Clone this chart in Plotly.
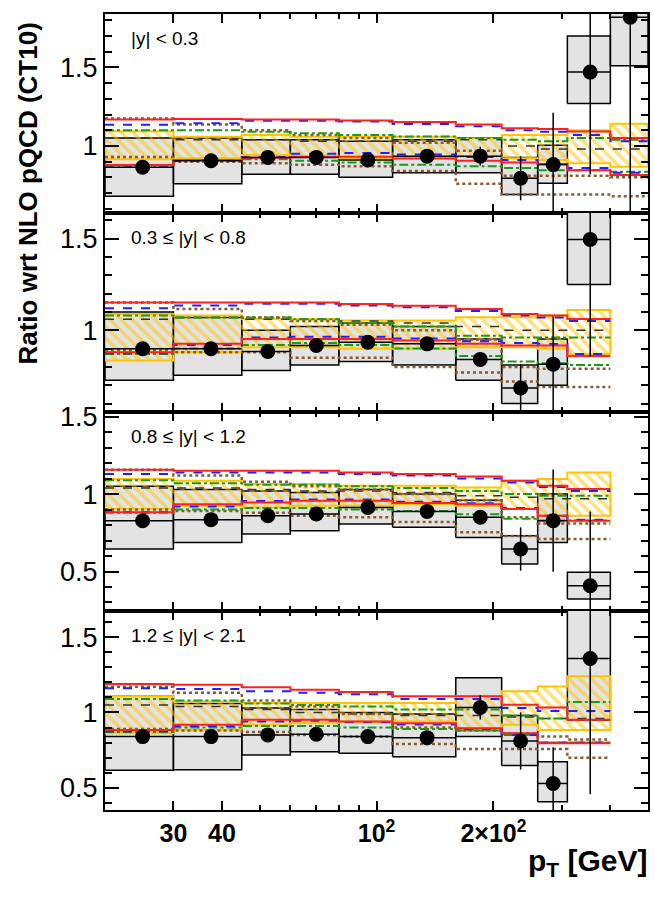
import math
import plotly.graph_objects as go
from plotly.subplots import make_subplots

# pT bin edges and centres [GeV]
pt_edges = [20, 30, 45, 60, 80, 110, 160, 210, 260, 310, 400, 500]
pt_centers = [25, 37.5, 52.5, 70, 95, 135, 185, 235, 285, 355, 450]

rapidity_labels = ["|y| < 0.3", "0.3 ≤ |y| < 0.8", "0.8 ≤ |y| < 1.2", "1.2 ≤ |y| < 2.1"]

# ---- |y| < 0.3 ----
ratio_1 = [0.864, 0.906, 0.927, 0.927, 0.910, 0.935, 0.935, 0.794, 0.881, 1.47, 1.82]
stat_1 = [0.01, 0.01, 0.01, 0.01, 0.01, 0.015, 0.06, 0.14, 0.33, 0.65, 1.3]
sys_lo_1 = [0.68, 0.76, 0.82, 0.82, 0.80, 0.83, 0.83, 0.69, 0.763, 1.27, 1.51]
sys_hi_1 = [1.05, 1.05, 1.04, 1.04, 1.03, 1.04, 1.05, 0.927, 1.005, 1.70, 2.15]
nlo_lo_1 = [0.915, 0.921, 0.942, 0.931, 0.921, 0.931, 0.931, 0.921, 0.910, 0.889, 0.868]
nlo_hi_1 = [1.094, 1.058, 1.069, 1.058, 1.058, 1.058, 1.047, 1.069, 1.069, 1.10, 1.142]
red_lo_1 = [0.878, 0.910, 0.925, 0.931, 0.931, 0.92, 0.905, 0.895, 0.885, 0.845, 0.815]
red_hi_1 = [1.169, 1.172, 1.169, 1.169, 1.162, 1.152, 1.137, 1.112, 1.108, 1.092, 1.05]
blue_lo_1 = [0.875, 0.905, 0.93, 0.95, 0.955, 0.945, 0.93, 0.91, 0.885, 0.86, 0.83]
blue_hi_1 = [1.135, 1.145, 1.16, 1.16, 1.155, 1.14, 1.125, 1.10, 1.09, 1.07, 1.03]
green_lo_1 = [0.875, 0.905, 0.915, 0.905, 0.895, 0.88, 0.87, 0.86, 0.845, 0.845, 0.835]
green_hi_1 = [1.10, 1.10, 1.09, 1.08, 1.07, 1.06, 1.05, 1.04, 1.03, 1.05, 1.04]
brown_lo_1 = [0.93, 0.90, 0.89, 0.88, 0.87, 0.84, 0.76, 0.69, 0.69, 0.69, 0.68]
brown_hi_1 = [1.175, 1.137, 1.10, 1.07, 1.05, 1.02, 0.97, 0.81, 0.81, 0.81, 0.80]
black_1 = [1.05, 1.04, 1.04, 1.03, 1.03, 1.03, 1.04, 1.0, 0.98, 0.98, 0.98]

# ---- 0.3 <= |y| < 0.8 ----
ratio_2 = [0.899, 0.899, 0.884, 0.917, 0.935, 0.926, 0.841, 0.685, 0.815, 1.496]
stat_2 = [0.01, 0.01, 0.01, 0.01, 0.015, 0.015, 0.035, 0.13, 0.26, 0.64]
sys_lo_2 = [0.727, 0.754, 0.78, 0.81, 0.83, 0.81, 0.727, 0.60, 0.70, 1.25]
sys_hi_2 = [1.10, 1.07, 1.0, 1.02, 1.04, 1.02, 0.953, 0.81, 0.953, 1.70]
nlo_lo_2 = [0.835, 0.88, 0.908, 0.908, 0.899, 0.899, 0.908, 0.908, 0.899, 0.871]
nlo_hi_2 = [1.089, 1.08, 1.062, 1.062, 1.053, 1.053, 1.071, 1.071, 1.08, 1.11]
red_lo_2 = [0.880, 0.926, 0.953, 0.953, 0.953, 0.944, 0.926, 0.917, 0.917, 0.859]
red_hi_2 = [1.152, 1.152, 1.152, 1.152, 1.143, 1.134, 1.116, 1.089, 1.08, 1.062]
blue_lo_2 = [0.875, 0.92, 0.96, 0.965, 0.965, 0.955, 0.94, 0.93, 0.925, 0.87]
blue_hi_2 = [1.12, 1.135, 1.145, 1.145, 1.135, 1.125, 1.105, 1.08, 1.07, 1.05]
green_lo_2 = [0.870, 0.90, 0.92, 0.93, 0.92, 0.90, 0.86, 0.83, 0.82, 0.81]
green_hi_2 = [1.08, 1.07, 1.07, 1.06, 1.04, 1.02, 0.97, 0.96, 0.96, 0.96]
brown_lo_2 = [0.89, 0.88, 0.88, 0.85, 0.85, 0.80, 0.77, 0.72, 0.69, 0.69]
brown_hi_2 = [1.152, 1.116, 1.07, 1.05, 1.03, 1.0, 0.95, 0.80, 0.79, 0.79]
black_2 = [1.06, 1.07, 1.06, 1.06, 1.05, 1.04, 1.02, 1.0, 1.0, 1.0]

# ---- 0.8 <= |y| < 1.2 ----
ratio_3 = [0.828, 0.835, 0.86, 0.871, 0.914, 0.888, 0.85, 0.645, 0.828, 0.408]
stat_3 = [0.01, 0.01, 0.01, 0.01, 0.015, 0.015, 0.04, 0.14, 0.33, 0.48]
sys_lo_3 = [0.645, 0.688, 0.742, 0.763, 0.806, 0.785, 0.72, 0.548, 0.688, 0.323]
sys_hi_3 = [1.05, 1.03, 1.02, 1.01, 1.03, 1.0, 0.96, 0.731, 1.0, 0.495]
nlo_lo_3 = [0.903, 0.925, 0.914, 0.925, 0.925, 0.935, 0.925, 0.903, 0.86, 0.86]
nlo_hi_3 = [1.097, 1.086, 1.065, 1.065, 1.054, 1.054, 1.043, 1.086, 1.097, 1.14]
red_lo_3 = [0.882, 0.935, 0.946, 0.957, 0.957, 0.942, 0.935, 0.903, 0.86, 0.828]
red_hi_3 = [1.157, 1.15, 1.15, 1.15, 1.14, 1.129, 1.114, 1.086, 1.054, 1.032]
blue_lo_3 = [0.885, 0.92, 0.955, 0.965, 0.965, 0.95, 0.94, 0.91, 0.86, 0.835]
blue_hi_3 = [1.13, 1.14, 1.14, 1.14, 1.13, 1.12, 1.10, 1.075, 1.045, 1.02]
green_lo_3 = [0.88, 0.90, 0.91, 0.91, 0.90, 0.89, 0.87, 0.84, 0.83, 0.83]
green_hi_3 = [1.09, 1.07, 1.06, 1.06, 1.05, 1.04, 1.02, 1.0, 0.99, 0.99]
brown_lo_3 = [0.90, 0.89, 0.88, 0.86, 0.85, 0.82, 0.753, 0.73, 0.71, 0.71]
brown_hi_3 = [1.157, 1.12, 1.08, 1.05, 1.03, 1.0, 0.96, 0.85, 0.81, 0.81]
black_3 = [1.04, 1.04, 1.03, 1.02, 1.02, 1.01, 0.99, 0.98, 0.97, 0.97]

# ---- 1.2 <= |y| < 2.1 ----
ratio_4 = [0.84, 0.84, 0.851, 0.855, 0.84, 0.833, 1.033, 0.811, 0.529, 1.358]
stat_4 = [0.01, 0.01, 0.01, 0.01, 0.01, 0.02, 0.08, 0.19, 0.24, 0.9]
sys_lo_4 = [0.617, 0.62, 0.717, 0.74, 0.73, 0.707, 0.84, 0.649, 0.407, 0.95]
sys_hi_4 = [1.107, 1.06, 1.03, 1.02, 1.0, 0.99, 1.23, 0.98, 0.673, 1.70]
nlo_lo_4 = [0.862, 0.884, 0.918, 0.929, 0.94, 0.94, 0.896, 0.918, 0.884, 0.884]
nlo_hi_4 = [1.107, 1.073, 1.062, 1.062, 1.062, 1.062, 1.107, 1.14, 1.173, 1.24]
red_lo_4 = [0.884, 0.918, 0.951, 0.951, 0.94, 0.929, 0.896, 0.862, 0.796, 0.796]
red_hi_4 = [1.189, 1.184, 1.167, 1.151, 1.136, 1.107, 1.107, 1.051, 1.033, 0.951]
blue_lo_4 = [0.875, 0.91, 0.94, 0.945, 0.935, 0.92, 0.89, 0.85, 0.80, 0.80]
blue_hi_4 = [1.16, 1.155, 1.14, 1.13, 1.12, 1.09, 1.09, 1.03, 1.01, 1.01]
green_lo_4 = [0.87, 0.90, 0.91, 0.91, 0.90, 0.89, 0.88, 0.85, 0.80, 0.80]
green_hi_4 = [1.09, 1.08, 1.06, 1.05, 1.04, 1.02, 1.02, 0.98, 0.96, 1.07]
brown_lo_4 = [0.89, 0.88, 0.87, 0.85, 0.84, 0.79, 0.757, 0.757, 0.757, 0.70]
brown_hi_4 = [1.17, 1.13, 1.08, 1.04, 0.99, 0.90, 0.88, 0.86, 0.84, 0.82]
black_4 = [1.05, 1.04, 1.02, 1.0, 0.99, 0.98, 0.98, 0.97, 0.96, 0.96]

y_ranges = [[0.573, 1.84], [0.554, 1.64], [0.245, 1.53], [0.353, 1.673]]

panels = [
    dict(ratio=ratio_1, stat=stat_1, sys=(sys_lo_1, sys_hi_1), nlo=(nlo_lo_1, nlo_hi_1),
         red=(red_lo_1, red_hi_1), blue=(blue_lo_1, blue_hi_1), green=(green_lo_1, green_hi_1),
         brown=(brown_lo_1, brown_hi_1), black=black_1),
    dict(ratio=ratio_2, stat=stat_2, sys=(sys_lo_2, sys_hi_2), nlo=(nlo_lo_2, nlo_hi_2),
         red=(red_lo_2, red_hi_2), blue=(blue_lo_2, blue_hi_2), green=(green_lo_2, green_hi_2),
         brown=(brown_lo_2, brown_hi_2), black=black_2),
    dict(ratio=ratio_3, stat=stat_3, sys=(sys_lo_3, sys_hi_3), nlo=(nlo_lo_3, nlo_hi_3),
         red=(red_lo_3, red_hi_3), blue=(blue_lo_3, blue_hi_3), green=(green_lo_3, green_hi_3),
         brown=(brown_lo_3, brown_hi_3), black=black_3),
    dict(ratio=ratio_4, stat=stat_4, sys=(sys_lo_4, sys_hi_4), nlo=(nlo_lo_4, nlo_hi_4),
         red=(red_lo_4, red_hi_4), blue=(blue_lo_4, blue_hi_4), green=(green_lo_4, green_hi_4),
         brown=(brown_lo_4, brown_hi_4), black=black_4),
]

FONT = "Liberation Sans, Arial, sans-serif"


def step_line(vals):
    n = len(vals)
    return pt_edges[:n + 1], list(vals) + [vals[-1]]


def boxes(lo, hi):
    xs, ys = [], []
    for i in range(len(lo)):
        a, b = pt_edges[i], pt_edges[i + 1]
        xs += [a, b, b, a, a, None]
        ys += [lo[i], lo[i], hi[i], hi[i], lo[i], None]
    return xs, ys


def band(lo, hi):
    xs, ys = [], []
    for i in range(len(hi)):
        xs += [pt_edges[i], pt_edges[i + 1]]
        ys += [hi[i], hi[i]]
    for i in reversed(range(len(lo))):
        xs += [pt_edges[i + 1], pt_edges[i]]
        ys += [lo[i], lo[i]]
    return xs + [xs[0]], ys + [ys[0]]


fig = make_subplots(rows=4, cols=1, shared_xaxes=True, vertical_spacing=0)

for r, p in enumerate(panels, start=1):
    n = len(p["ratio"])
    # data systematic boxes
    bx, by = boxes(*p["sys"])
    fig.add_trace(go.Scatter(x=bx, y=by, mode="lines", fill="toself", fillcolor="#e3e3e3",
                             line=dict(color="black", width=1.5), hoverinfo="skip"), row=r, col=1)
    # NLO uncertainty (hatched)
    nx, ny = band(*p["nlo"])
    fig.add_trace(go.Scatter(x=nx, y=ny, mode="lines", fill="toself", fillcolor="rgba(0,0,0,0)",
                             fillpattern=dict(shape="\\", fgcolor="#ffc400", bgcolor="rgba(0,0,0,0)",
                                              size=8, solidity=0.45),
                             line=dict(color="#ffc400", width=2), hoverinfo="skip"), row=r, col=1)
    # step-line predictions
    styles = [("black", dict(color="#333333", width=1.5, dash="dash")),
              ("brown", dict(color="#8b5a2b", width=2.5, dash="dot")),
              ("green", dict(color="#1a9a1a", width=2, dash="dashdot")),
              ("blue", dict(color="#2020ff", width=2, dash="dash")),
              ("red", dict(color="#ff2020", width=2))]
    for key, ls in styles:
        curves = p[key] if isinstance(p[key], tuple) else (p[key],)
        for c in curves:
            sx, sy = step_line(c)
            fig.add_trace(go.Scatter(x=sx, y=sy, mode="lines", line=dict(shape="hv", **ls),
                                     hoverinfo="skip"), row=r, col=1)
    # data points
    cx = pt_centers[:n]
    fig.add_trace(go.Scatter(
        x=cx, y=p["ratio"], mode="markers",
        marker=dict(color="black", size=15),
        error_y=dict(type="data", array=p["stat"], color="black", thickness=1.5, width=0),
        error_x=dict(type="data", symmetric=False,
                     array=[pt_edges[i + 1] - cx[i] for i in range(n)],
                     arrayminus=[cx[i] - pt_edges[i] for i in range(n)],
                     color="black", thickness=1.5, width=0),
        hoverinfo="skip"), row=r, col=1)

    fig.update_yaxes(range=y_ranges[r - 1], tick0=0, dtick=0.5, ticks="inside", ticklen=14,
                     tickwidth=2, tickcolor="black", showline=True, linewidth=2, linecolor="black",
                     mirror="ticks", showgrid=False, zeroline=False,
                     tickfont=dict(family=FONT, size=27, color="black"),
                     minor=dict(dtick=0.1, tick0=0, ticks="inside", ticklen=7, tickcolor="black",
                                tickwidth=1.5),
                     row=r, col=1)
    fig.update_xaxes(type="log", range=[math.log10(20), math.log10(500)],
                     tickmode="array", tickvals=[30, 40, 100, 200],
                     ticktext=["<b>30</b>", "<b>40</b>", "<b>10<sup>2</sup></b>", "<b>2×10<sup>2</sup></b>"],
                     ticks="inside", ticklen=9, tickwidth=2, tickcolor="black",
                     showline=True, linewidth=2, linecolor="black", mirror="ticks",
                     showgrid=False, zeroline=False, showticklabels=(r == 4),
                     tickfont=dict(family=FONT, size=25, color="black"),
                     minor=dict(tickvals=[50, 60, 70, 80, 90, 300, 400], ticks="inside",
                                ticklen=5, tickcolor="black", tickwidth=1.5),
                     row=r, col=1)
    xref = "x domain" if r == 1 else f"x{r} domain"
    yref = "y domain" if r == 1 else f"y{r} domain"
    fig.add_annotation(x=0.045, y=0.875, xref=xref, yref=yref, text=rapidity_labels[r - 1],
                       showarrow=False, xanchor="left", yanchor="middle",
                       font=dict(family=FONT, size=19, color="black"))

fig.add_annotation(x=-0.141, y=0.775, xref="paper", yref="paper", textangle=-90,
                   xanchor="center", yanchor="middle",
                   text="<b>Ratio wrt NLO pQCD (CT10)</b>", showarrow=False,
                   font=dict(family=FONT, size=26, color="black"))
fig.add_annotation(x=1.004, y=-0.066, xref="paper", yref="paper", xanchor="right",
                   yanchor="middle",
                   text="<b>p<sub>T</sub> [GeV]</b>", showarrow=False,
                   font=dict(family=FONT, size=30, color="black"))

fig.update_layout(width=654, height=897, showlegend=False,
                  margin=dict(l=105, r=4, t=10, b=87),
                  paper_bgcolor="white", plot_bgcolor="white")

fig.write_html("out.html", config={"displayModeBar": False},
               post_script="document.body.style.margin='0';")
